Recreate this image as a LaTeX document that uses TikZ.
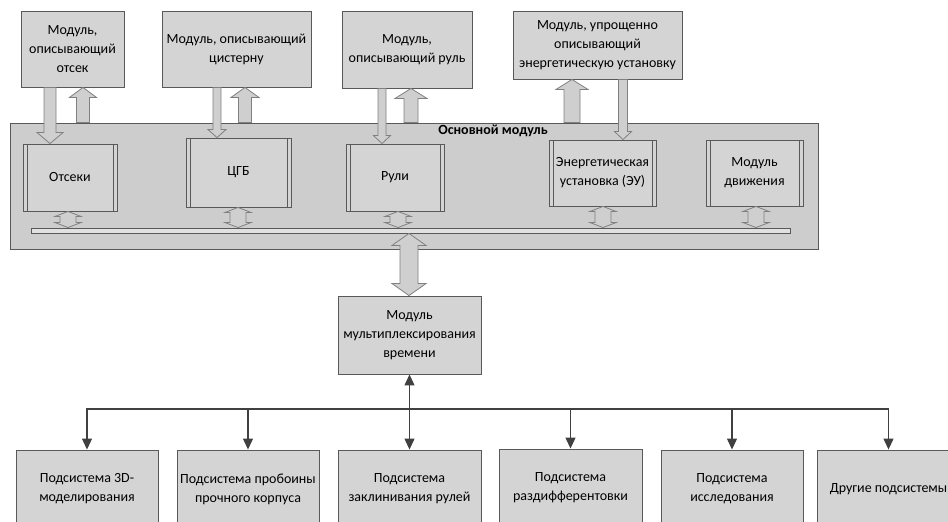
\documentclass[tikz,border=0pt]{standalone}
\usepackage{fontspec}
\setmainfont{Carlito}
\usetikzlibrary{arrows.meta,calc}

\definecolor{linec}{HTML}{595959}
\definecolor{boxc}{HTML}{D4D4D4}
\definecolor{mainc}{HTML}{CDCDCD}
\definecolor{arrfill}{HTML}{CFCFCF}
\definecolor{linkc}{HTML}{404040}

% block arrow: x, from, to, half shaft, half head, head length
\newcommand{\blkarrow}[6]{%
  \coordinate (ba) at (#1,0 |- #2);
  \coordinate (bb) at (#1,0 |- #3);
  \coordinate (bh) at ($(bb)!#6pt!(ba)$);
  \draw[blockarr] ($(ba)+(-#4,0)$) -- ($(bh)+(-#4,0)$) -- ($(bh)+(-#5,0)$) -- (bb)
    -- ($(bh)+(#5,0)$) -- ($(bh)+(#4,0)$) -- ($(ba)+(#4,0)$) -- cycle;}
% double block arrow: x, from, to, half shaft, half head, head length
\newcommand{\dblarrow}[6]{%
  \coordinate (da) at (#1,0 |- #2);
  \coordinate (db) at (#1,0 |- #3);
  \coordinate (dh) at ($(db)!#6pt!(da)$);
  \coordinate (dg) at ($(da)!#6pt!(db)$);
  \draw[blockarr] (da) -- ($(dg)+(#5,0)$) -- ($(dg)+(#4,0)$) -- ($(dh)+(#4,0)$)
    -- ($(dh)+(#5,0)$) -- (db) -- ($(dh)+(-#5,0)$) -- ($(dh)+(-#4,0)$)
    -- ($(dg)+(-#4,0)$) -- ($(dg)+(-#5,0)$) -- cycle;}

\begin{document}
\begin{tikzpicture}[x=1pt,y=-1pt,
	font=\fontsize{14}{19}\selectfont,
	box/.style={draw=linec,fill=boxc,line width=0.9pt,align=center,inner sep=1pt},
	procbox/.style={box,path picture={
		\draw[linec,line width=0.7pt]
		([xshift=4pt]path picture bounding box.north west) -- ([xshift=4pt]path picture bounding box.south west)
		([xshift=-4pt]path picture bounding box.north east) -- ([xshift=-4pt]path picture bounding box.south east);}},
	blockarr/.style={draw=gray,fill=arrfill,line width=0.8pt,line join=miter},
	link/.style={draw=linkc,line width=1.2pt},
	tip/.tip={Triangle[length=11pt,width=10pt]}]
	\useasboundingbox (0,0) rectangle (948,522);
	\clip (0,0) rectangle (948,522);

	% main module
	\node[box,fill=mainc,minimum width=808,minimum height=126] (main) at (414,186) {};
	\node[font=\fontsize{14}{19}\selectfont\bfseries] (mainlbl) at (493,131) {Основной модуль};
	\node[box,fill=boxc!70!white,minimum width=759,minimum height=5,inner sep=0pt] (bus) at (410.5,230.5) {};

	\node[procbox,minimum width=94,minimum height=67] (otseki) at (70,177.5) {Отсеки};
	\node[procbox,minimum width=105,minimum height=69] (cgb) at (238.5,172.5) {ЦГБ};
	\node[procbox,minimum width=98,minimum height=67] (ruli) at (395,177.5) {Рули};
	\node[procbox,minimum width=107,minimum height=66] (eu) at (602.5,173) {Энергетическая\\установка (ЭУ)};
	\node[procbox,minimum width=97,minimum height=66] (motion) at (754.5,173) {Модуль\\движения};

	% upper modules
	\node[box,minimum width=103,minimum height=76] (top1) at (72.5,49) {Модуль,\\описывающий\\отсек};
	\node[box,minimum width=149,minimum height=76] (top2) at (236.5,49) {Модуль, описывающий\\цистерну};
	\node[box,minimum width=130,minimum height=77] (top3) at (407,49.5) {Модуль,\\описывающий руль};
	\node[box,minimum width=169,minimum height=68] (top4) at (597.5,45) {Модуль, упрощенно\\описывающий\\энергетическую установку};

	\blkarrow{50}{top1.south}{otseki.north}{6}{13}{11}
	\blkarrow{83}{main.north}{top1.south}{6.5}{13.5}{10}
	\blkarrow{217}{top2.south}{cgb.north}{4}{9}{8}
	\blkarrow{245}{main.north}{top2.south}{6.5}{14}{10}
	\blkarrow{382}{top3.south}{ruli.north}{4}{8.5}{8}
	\blkarrow{411}{main.north}{top3.south}{7}{16}{10}
	\blkarrow{572}{main.north}{top4.south}{8}{16}{10}
	\blkarrow{623}{top4.south}{eu.north}{4.5}{8.5}{8}

	\dblarrow{68}{otseki.south}{bus.north}{8}{13}{5}
	\dblarrow{238}{cgb.south}{bus.north}{8}{13}{5}
	\dblarrow{398}{ruli.south}{bus.north}{8}{13}{5}
	\dblarrow{603}{eu.south}{bus.north}{8}{13}{5}
	\dblarrow{756}{motion.south}{bus.north}{8}{13}{5}

	% time multiplexing
	\node[box,minimum width=143,minimum height=78] (mux) at (409.5,335) {Модуль\\мультиплексирования\\времени};
	\dblarrow{409}{bus.south}{mux.north}{9}{17}{12}

	% subsystems
	\node[box,minimum width=142,minimum height=78] (b1) at (87,489) {Подсистема 3D-\\моделирования};
	\node[box,minimum width=142,minimum height=78] (b2) at (248,489) {Подсистема пробоины\\прочного корпуса};
	\node[box,minimum width=143,minimum height=78] (b3) at (409.5,489) {Подсистема\\заклинивания рулей};
	\node[box,minimum width=143,minimum height=78] (b4) at (570.5,488) {Подсистема\\раздифферентовки};
	\node[box,minimum width=142,minimum height=78] (b5) at (732,489) {Подсистема\\исследования};
	\node[box,minimum width=143,minimum height=78] (b6) at (888.5,489) {Другие подсистемы};

	\coordinate (split) at (mux.south |- 0,409);
	\draw[link,tip-tip] (mux.south) -- (b3.north);
	\foreach \b in {b1,b2,b4,b5,b6}
		\draw[link,-tip] (split) -| (\b.north);
\end{tikzpicture}
\end{document}
